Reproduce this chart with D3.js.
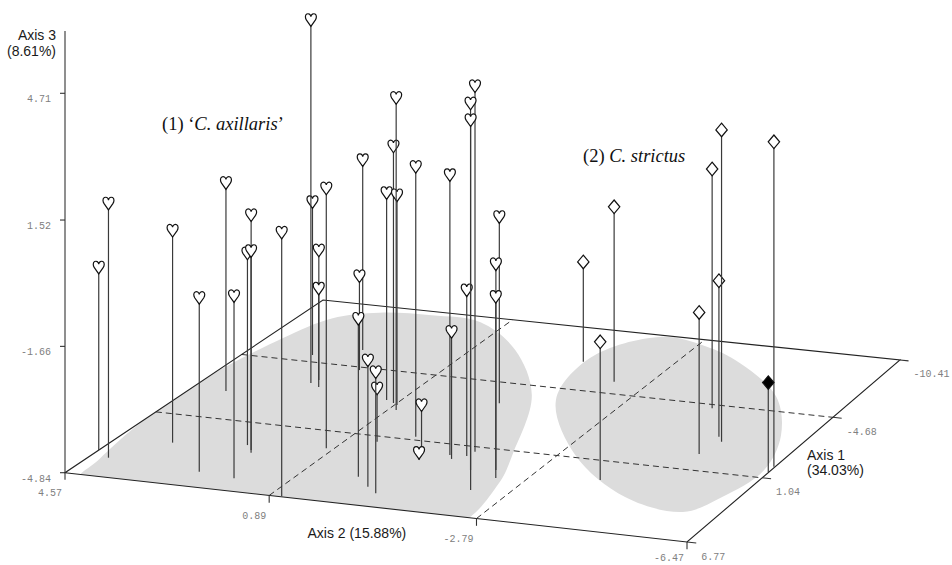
<!DOCTYPE html>
<html><head><meta charset="utf-8">
<script src="https://cdn.jsdelivr.net/npm/d3@7"></script>
<style>body{margin:0;background:#fff}svg{display:block}</style>
</head><body>
<svg id="chart" width="952" height="565"></svg>
<script>
// ---------------- data ----------------
const axis1Ticks = [6.77, 1.04, -4.68, -10.41];
const axis2Ticks = [4.57, 0.89, -2.79, -6.47];
const axis3Ticks = [-4.84, -1.66, 1.52, 4.71];
const axis1Title = ["Axis 1", "(34.03%)"];
const axis2Title = "Axis 2 (15.88%)";
const axis3Title = ["Axis 3", "(8.61%)"];

// group (1) 'C. axillaris' — hearts
const axillarisAx1 = [4.68, 5.20, 3.42, 5.51, -1.36, 5.73, 3.32, 2.95, 3.54, 6.72,
  -2.83, -5.30, -3.16, -2.56, 2.51, -6.22, -4.41, 4.52, 5.23, 5.68,
  1.51, -2.07, -1.87, -1.30, -1.74, 0.76, 1.66, 2.64, 1.95, 2.26,
  1.89, 4.59, 2.99, 1.46, 2.77, 3.41, -2.82];
const axillarisAx2 = [4.57, 4.24, 3.58, 2.50, 3.94, 1.81, 2.17, 2.34, 2.11, 0.68,
  2.75, 3.39, 2.69, 2.53, 1.02, 2.68, 2.26, -0.10, -0.46, -0.72,
  0.36, 1.13, 0.95, 0.75, 0.85, -0.15, -0.49, -0.70, -1.08, -1.19,
  -1.37, -2.13, -1.72, -1.41, -2.12, -2.28, -0.77];
const axillarisAx3 = [-0.19, 1.61, 0.58, -0.45, 0.61, -0.25, 1.15, 0.06, 0.30, 1.75,
  4.71, -0.76, -1.42, -2.25, 1.80, 0.24, -2.35, -0.85, -1.66, -1.80,
  -3.47, 0.57, 1.86, 3.28, 0.63, 2.10, -3.73, -4.65, 2.30, -1.60,
  -0.61, 4.45, 4.45, 4.50, 0.38, -0.26, 0.03];

// group (2) C. strictus — diamonds (last one filled)
const strictusAx1 = [-1.59, 0.02, -4.35, -5.76, -7.25, -1.99, -0.36, 2.65, 0.51];
const strictusAx2 = [-5.14, -6.45, -4.33, -2.18, -1.24, -5.00, -5.02, -3.96, -6.46];
const strictusAx3 = [3.18, 3.43, 1.41, -0.22, -2.18, -0.82, -1.22, -1.35, -2.57];
const strictusFilled = [false, false, false, false, false, false, false, false, true];

const groupLabels = [
  {num: "(1) ", pre: "\u2018", name: "C. axillaris", post: "\u2019"},
  {num: "(2) ", pre: "", name: "C. strictus", post: ""}
];

// shaded group regions on the floor, outline points as [axis1, axis2]
const regionAxillaris = [[7.46,4.18],[5.40,4.35],[2.48,4.54],[-1.82,4.60],[-6.54,4.29],
  [-8.78,3.96],[-9.77,3.30],[-10.03,2.36],[-9.86,1.37],[-7.66,0.15],[-3.83,-1.12],
  [1.27,-2.05],[3.85,-2.44],[7.46,-2.60],[8.83,0.15],[8.49,2.36]];
const regionStrictus = [[-10.24,-1.98],[-9.81,-2.94],[-8.62,-3.86],[-5.94,-5.15],
  [-2.68,-5.97],[0.41,-6.36],[2.99,-6.19],[4.47,-5.86],[3.80,-4.68],[0.84,-3.07],
  [-3.62,-1.62],[-7.64,-1.27]];

// ---------------- layout / projection ----------------
const svg = d3.select("#chart");
const cornerL = [65, 472.7], cornerF = [687, 542], cornerR = [900, 360], cornerB = [323, 300];
const axis3Top = 6.28;

const uScale = d3.scaleLinear().domain([axis2Ticks[0], axis2Ticks[3]]).range([0, 1]);
const vScale = d3.scaleLinear().domain([axis1Ticks[0], axis1Ticks[3]]).range([0, 1]);
const zScale = d3.scaleLinear().domain([axis3Ticks[0], axis3Ticks[3]]).range([0, 379.4]);

function homography(p0, p1, p2, p3) {
  const dx1 = p1[0]-p2[0], dy1 = p1[1]-p2[1], dx2 = p3[0]-p2[0], dy2 = p3[1]-p2[1];
  const dx3 = p0[0]-p1[0]+p2[0]-p3[0], dy3 = p0[1]-p1[1]+p2[1]-p3[1];
  const den = dx1*dy2 - dx2*dy1;
  const g = (dx3*dy2 - dx2*dy3)/den, h = (dx1*dy3 - dx3*dy1)/den;
  return {a: p1[0]-p0[0]+g*p1[0], b: p3[0]-p0[0]+h*p3[0], c: p0[0],
          d: p1[1]-p0[1]+g*p1[1], e: p3[1]-p0[1]+h*p3[1], f: p0[1], g, h};
}
const Hm = homography(cornerL, cornerF, cornerR, cornerB);
const zMin = axis3Ticks[0];
function depth(ax1, ax2) { return Hm.g*uScale(ax2) + Hm.h*vScale(ax1) + 1; }
function proj(ax1, ax2, ax3) {
  const u = uScale(ax2), v = vScale(ax1), z = zScale(ax3 == null ? zMin : ax3);
  const D = Hm.g*u + Hm.h*v + 1;
  return [(Hm.a*u + Hm.b*v + Hm.c)/D, (Hm.d*u + Hm.e*v + Hm.f - z)/D];
}

const a1min = axis1Ticks[0], a1max = axis1Ticks[3], a2min = axis2Ticks[0], a2max = axis2Ticks[3];
const floorPts = [proj(a1min, a2min), proj(a1min, a2max), proj(a1max, a2max), proj(a1max, a2min)];

// clip for regions
svg.append("defs").append("clipPath").attr("id", "floorClip")
  .append("path").attr("d", "M" + floorPts.join("L") + "Z");

const blobLine = d3.line().curve(d3.curveCatmullRomClosed.alpha(0.5));
const gRegions = svg.append("g").attr("clip-path", "url(#floorClip)");
[regionAxillaris, regionStrictus].forEach(r => {
  gRegions.append("path")
    .attr("d", blobLine(r.map(p => proj(p[0], p[1]))))
    .attr("fill", "#dcdcdc");
});

// dashed grid lines on the floor
const gGrid = svg.append("g").attr("stroke", "#333").attr("stroke-width", 1)
  .attr("stroke-dasharray", "6,4").attr("fill", "none");
axis1Ticks.slice(1, 3).forEach(t => {
  const p = proj(t, a2min), q = proj(t, a2max);
  gGrid.append("line").attr("x1", p[0]).attr("y1", p[1]).attr("x2", q[0]).attr("y2", q[1]);
});
axis2Ticks.slice(1, 3).forEach(t => {
  const p = proj(a1min, t), q = proj(a1max, t);
  gGrid.append("line").attr("x1", p[0]).attr("y1", p[1]).attr("x2", q[0]).attr("y2", q[1]);
});

// floor edges
svg.append("path").attr("d", "M" + floorPts.join("L") + "Z")
  .attr("fill", "none").attr("stroke", "#222").attr("stroke-width", 1.1);

// vertical axis 3
const gAxes = svg.append("g").attr("stroke", "#333").attr("stroke-width", 1.1);
const vb = proj(a1min, a2min, zMin), vt = proj(a1min, a2min, axis3Top);
gAxes.append("line").attr("x1", vb[0]).attr("y1", vb[1]).attr("x2", vt[0]).attr("y2", vt[1]);

const tickFont = "'Liberation Mono', 'DejaVu Sans Mono', monospace";
const gLabels = svg.append("g").attr("font-family", tickFont).attr("font-size", 10).attr("fill", "#808080");

axis3Ticks.forEach(t => {
  const p = proj(a1min, a2min, t);
  gAxes.append("line").attr("x1", p[0] - 5).attr("y1", p[1]).attr("x2", p[0]).attr("y2", p[1]);
  gLabels.append("text").attr("x", p[0] - 14).attr("y", p[1] + 5.5).attr("dy", "0.35em")
    .attr("text-anchor", "end").text(t.toFixed(2));
});
axis2Ticks.forEach(t => {
  const p = proj(a1min, t, zMin), q = proj(a1min, t, zMin - 0.18);
  gAxes.append("line").attr("x1", p[0]).attr("y1", p[1]).attr("x2", q[0]).attr("y2", q[1]);
  gLabels.append("text").attr("x", p[0] - 3).attr("y", Math.min(p[1] + 20, 557)).attr("dy", "0.35em")
    .attr("text-anchor", "end").text(t.toFixed(2));
});
axis1Ticks.forEach(t => {
  const p = proj(t, a2max), q = proj(t, a2max - 0.16);
  gAxes.append("line").attr("x1", p[0]).attr("y1", p[1]).attr("x2", q[0]).attr("y2", q[1]);
  gLabels.append("text").attr("x", q[0] + 5).attr("y", q[1] + 13).attr("dy", "0.35em")
    .attr("text-anchor", "start").text(t.toFixed(2));
});

// axis titles
const titleFont = "'Liberation Sans', Arial, sans-serif";
const gTitles = svg.append("g").attr("font-family", titleFont).attr("font-size", 14).attr("fill", "#1a1a1a");
gTitles.append("text").attr("x", vt[0] - 9).attr("y", vt[1] + 9).attr("text-anchor", "end").text(axis3Title[0]);
gTitles.append("text").attr("x", vt[0] - 9).attr("y", vt[1] + 25).attr("text-anchor", "end").text(axis3Title[1]);
const a2mid = proj(a1min, (axis2Ticks[1] + axis2Ticks[2]) / 2);
gTitles.append("text").attr("x", a2mid[0] - 65).attr("y", a2mid[1] + 31).text(axis2Title);
const a1pos = proj((axis1Ticks[1] + axis1Ticks[2]) / 2, a2max);
gTitles.append("text").attr("x", a1pos[0] + 9).attr("y", a1pos[1] + 13).text(axis1Title[0]);
gTitles.append("text").attr("x", a1pos[0] + 9).attr("y", a1pos[1] + 28).text(axis1Title[1]);

// group labels
const gGroup = svg.append("g").attr("font-family", "'Liberation Serif', 'Times New Roman', serif")
  .attr("font-size", 18.5).attr("fill", "#111");
const labelPos = [[162, 130], [583, 162]];
groupLabels.forEach((g, i) => {
  const t = gGroup.append("text").attr("x", labelPos[i][0]).attr("y", labelPos[i][1]);
  t.append("tspan").text(g.num + g.pre);
  t.append("tspan").attr("font-style", "italic").text(g.name);
  if (g.post) t.append("tspan").text(g.post);
});

// points
const points = [];
axillarisAx1.forEach((v, i) => points.push({ax1: v, ax2: axillarisAx2[i], ax3: axillarisAx3[i], type: "heart", filled: false}));
strictusAx1.forEach((v, i) => points.push({ax1: v, ax2: strictusAx2[i], ax3: strictusAx3[i], type: "diamond", filled: strictusFilled[i]}));
points.forEach(p => p.D = depth(p.ax1, p.ax2));
points.sort((a, b) => b.D - a.D);

const heartPath = "M0,-3.2 C-0.3,-5.6 -2.5,-6.6 -4.1,-5.7 C-6,-4.6 -5.8,-1.8 -4.4,0.4 L0,6.6 L4.4,0.4 C5.8,-1.8 6,-4.6 4.1,-5.7 C2.5,-6.6 0.3,-5.6 0,-3.2 Z";
const diamondPath = "M0,-6.8 L5.7,0 L0,6.8 L-5.7,0 Z";

const gPts = svg.append("g");
points.forEach(p => {
  const base = proj(p.ax1, p.ax2, zMin), top = proj(p.ax1, p.ax2, p.ax3);
  gPts.append("line").attr("x1", base[0]).attr("y1", base[1]).attr("x2", top[0]).attr("y2", top[1])
    .attr("stroke", "#3a3a3a").attr("stroke-width", 1.2);
  gPts.append("path").attr("d", p.type === "heart" ? heartPath : diamondPath)
    .attr("transform", `translate(${top[0]},${top[1]})`)
    .attr("fill", p.filled ? "#000" : "#fff").attr("stroke", "#111").attr("stroke-width", 1.2);
});
</script>
</body></html>
